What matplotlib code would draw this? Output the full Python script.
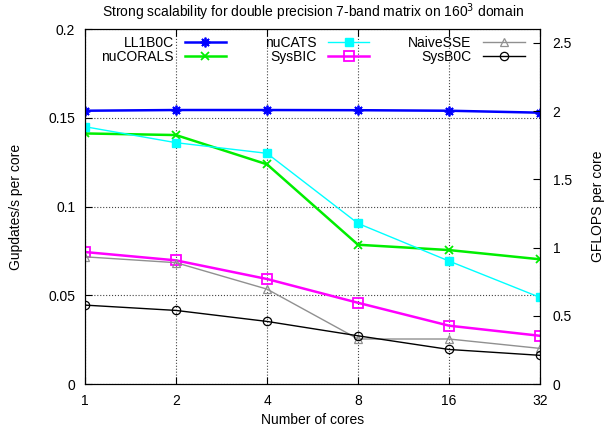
import matplotlib
matplotlib.use("Agg")
import matplotlib.pyplot as plt

plt.rcParams['font.family'] = ['Liberation Sans', 'DejaVu Sans']

cores = [1, 2, 4, 8, 16, 32]

ll1b0c = [0.1540, 0.1544, 0.1544, 0.1543, 0.1540, 0.1529]
nucorals = [0.1412, 0.1403, 0.1238, 0.0785, 0.0755, 0.0703]
nucats = [0.1450, 0.1360, 0.1300, 0.0905, 0.0693, 0.0488]
sysbic = [0.0744, 0.0697, 0.0592, 0.0458, 0.0329, 0.0272]
naivesse = [0.0717, 0.0684, 0.0535, 0.0254, 0.0254, 0.0201]
sysb0c = [0.0445, 0.0415, 0.0353, 0.0272, 0.0195, 0.0162]

# flops per update for the 7-band matrix
flops_per_update = 13

fig = plt.figure(figsize=(6.11, 4.34), dpi=100)
ax = fig.add_axes([0.139, 0.115, 0.745, 0.818])

fs = 10
ax.plot(cores, ll1b0c, color='#0000ff', lw=1.8, marker=(8, 2, 0), ms=7, mew=1.3, label='LL1B0C')
ax.plot(cores, nucorals, color='#00ee00', lw=1.8, marker='x', ms=6, mew=1.3, label='nuCORALS')
ax.plot(cores, nucats, color='#00ffff', lw=1.0, marker='s', ms=6, label='nuCATS')
ax.plot(cores, sysbic, color='#ff00ff', lw=1.8, marker='s', ms=6.5, mfc='none', mew=1.3, label='SysBIC')
ax.plot(cores, naivesse, color='#909090', lw=1.0, marker='^', ms=5.5, mfc='none', mew=0.9, label='NaiveSSE')
ax.plot(cores, sysb0c, color='black', lw=1.0, marker='o', ms=6, mfc='none', mew=0.9, label='SysB0C')

ax.set_xscale('log', base=2)
ax.set_xlim(1, 32)
ax.set_ylim(0, 0.2)
ax.set_xticks(cores)
ax.set_xticklabels([str(c) for c in cores])
ax.minorticks_off()
ax.set_yticks([0, 0.05, 0.1, 0.15, 0.2])
ax.set_yticklabels(['0', '0.05', '0.1', '0.15', '0.2'])
ax.tick_params(direction='in', labelsize=fs, length=5, right=False, top=True, pad=7)
ax.grid(True, ls=':', color='#444444', lw=0.8)

ax2 = ax.twinx()
ax2.set_ylim(0, 0.2 * flops_per_update)
ax2.set_yticks([0, 0.5, 1, 1.5, 2, 2.5])
ax2.set_yticklabels(['0', '0.5', '1', '1.5', '2', '2.5'])
ax2.tick_params(direction='in', labelsize=fs, length=5, pad=9)

ax.set_xlabel('Number of cores', fontsize=fs, labelpad=4)
ax.set_ylabel('Gupdates/s per core', fontsize=fs, labelpad=18)
ax2.set_ylabel('GFLOPS per core', fontsize=fs, labelpad=14)
ax.set_title('Strong scalability for double precision 7-band matrix on 160$^3$ domain', fontsize=fs, pad=9)

ax.legend(loc='upper left', bbox_to_anchor=(0.014, 1.007), ncol=3, frameon=False, markerfirst=False,
          fontsize=fs, handlelength=3.0, columnspacing=2.8, labelspacing=0.0, handletextpad=0.8,
          borderaxespad=0.3)

fig.savefig('out.png', dpi=100)
